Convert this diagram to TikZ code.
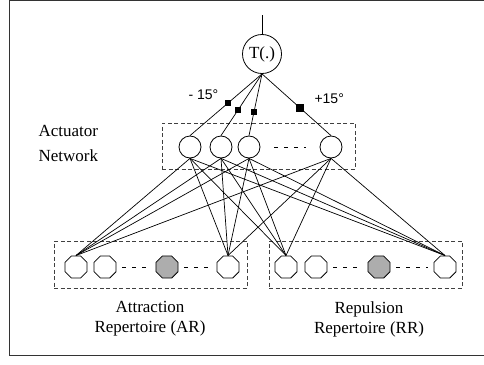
\documentclass[tikz,border=0pt]{standalone}
\usepackage{fontspec}
\setmainfont{Liberation Serif}
\newfontfamily\anglefont{Liberation Sans}
\usetikzlibrary{shapes.geometric}
\begin{document}
\begin{tikzpicture}[x=1pt,y=-1pt,
  wire/.style={line width=0.7pt},
  unit/.style={circle,draw,line width=0.8pt,minimum size=22pt,inner sep=0pt},
  cell/.style={regular polygon,regular polygon sides=8,draw,line width=0.8pt,
               minimum size=24pt,inner sep=0pt,fill=white},
  winner/.style={cell,fill=black!32},
  group/.style={draw=black!75,line width=0.8pt,dash pattern=on 4pt off 2.5pt,
                inner sep=0pt},
  gap/.style={line width=0.7pt,dash pattern=on 4pt off 6pt,
              shorten <=6pt,shorten >=6pt},
  weight/.style={fill=black,inner sep=0pt,minimum size=6pt},
  angle/.style={anchor=base west,font=\anglefont\fontsize{14}{16}\selectfont},
  caption/.style={font=\rmfamily\fontsize{17}{20}\selectfont,align=center},
]
\useasboundingbox (0,0) rectangle (484,364);

% outer frame (right side runs off the page)
\draw[black!80,line width=1pt] (484,0.5) -- (9.5,0.5) -- (9.5,355) -- (484,355);

% group boxes
\node[group,minimum width=193pt,minimum height=46pt] (actbox) at (258.5,146) {};
\node[group,minimum width=193pt,minimum height=47pt] (arbox) at (150.5,264.5) {};
\node[group,minimum width=193pt,minimum height=47pt] (rrbox) at (365.5,264.5) {};

% output unit
\coordinate (feed) at (262,15);
\node[unit,minimum size=39pt,font=\rmfamily\fontsize{17}{20}\selectfont] (T) at (262,54) {T(.)};
\draw[wire] (feed) -- (T);

% actuator units
\node[unit] (u1) at (190,147) {};
\node[unit] (u2) at (221,147) {};
\node[unit] (u3) at (249,147) {};
\node[unit] (u4) at (331,147) {};
\draw[gap,shorten <=14pt,shorten >=14pt] (u3) -- (u4);

% weighted links to the output unit
\draw[wire] (T.south) -- (u1.north) node[weight,pos=0.47] {};
\draw[wire] (T.south) -- (u2.north) node[weight,pos=0.58] {};
\draw[wire] (T.south) -- (u3.north) node[weight,pos=0.62] {};
\draw[wire] (T.south) -- (u4.north) node[weight,pos=0.55,minimum size=8pt] {};

\node[angle] (lneg) at (185,99) {- 15°};
\node[angle] (lpos) at (311,103) {+15°};

\node[anchor=west,align=left,font=\rmfamily\fontsize{17}{25}\selectfont] (actlabel) at (35,143) {Actuator\\Network};

% attraction repertoire
\node[cell] (a1) at (76,267) {};
\node[cell] (a2) at (105,267) {};
\node[winner] (a3) at (167,267) {};
\node[cell] (a4) at (228,267) {};
\draw[gap] (a2) -- (a3);
\draw[gap] (a3) -- (a4);

% repulsion repertoire
\node[cell] (r1) at (286,267) {};
\node[cell] (r2) at (316,267) {};
\node[winner] (r3) at (379,267) {};
\node[cell] (r4) at (445,267) {};
\draw[gap] (r2) -- (r3);
\draw[gap] (r3) -- (r4);

% full connections between actuator units and repertoire cells
\foreach \u in {u1,u2,u3,u4}
  \foreach \c in {a1,a4,r1,r4}
    \draw[wire] (\u.south) -- (\c.north);

\node[caption] (arlabel) at (150,319) {Attraction\\Repertoire (AR)};
\node[caption] (rrlabel) at (369,319) {Repulsion\\Repertoire (RR)};
\end{tikzpicture}
\end{document}
